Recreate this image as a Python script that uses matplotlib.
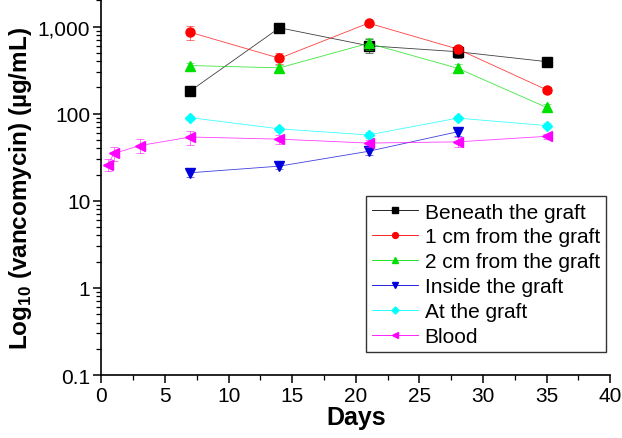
import numpy as np
import matplotlib
matplotlib.use("Agg")
import matplotlib.pyplot as plt
from matplotlib.lines import Line2D
from matplotlib.ticker import FuncFormatter, LogLocator, MultipleLocator, NullFormatter

plt.rcParams["font.family"] = ["Liberation Sans", "DejaVu Sans"]
plt.rcParams["mathtext.fontset"] = "custom"
plt.rcParams["mathtext.rm"] = "Liberation Sans:bold"
plt.rcParams["mathtext.bf"] = "Liberation Sans:bold"

# ---- data ----
days = [7, 14, 21, 28, 35]
beneath = [183, 969, 603, 515, 396]
beneath_err = [15, 60, 110, 80, 45]
cm1 = [859, 433, 1096, 553, 188]
cm1_err = [150, 60, 40, 50, 15]
cm2 = [357, 336, 643, 333, 118]
cm2_err = [25, 25, 100, 35, 12]
inside_days = [7, 14, 21, 28]
inside = [21, 25, 37, 62]
inside_err = [2, 2, 3, 6]
at_graft = [90, 67, 57, 89, 73]
at_graft_err = [5, 4, 4, 5, 5]
blood_days = [0.5, 1, 3, 7, 14, 21, 28, 35]
blood = [26, 35, 43, 54, 51, 46, 47.5, 55]
blood_err = [4, 6, 8, 10, 6, 4, 6, 4]

series = [
    (days, beneath, beneath_err, "Beneath the graft", "black", "s"),
    (days, cm1, cm1_err, "1 cm from the graft", "red", "o"),
    (days, cm2, cm2_err, "2 cm from the graft", "#00e000", "^"),
    (inside_days, inside, inside_err, "Inside the graft", "#0000dd", "v"),
    (days, at_graft, at_graft_err, "At the graft", "cyan", "D"),
    (blood_days, blood, blood_err, "Blood", "magenta", "<"),
]

fig = plt.figure(figsize=(6.22, 4.39), dpi=100)
ax = fig.add_axes([0.163, 0.1435, 0.818, 0.8555])

handles = []
for x, y, err, label, col, mk in series:
    ms = 6.5 if mk != "D" else 5.5
    # error bars, a bit faded like the original
    ax.errorbar(x, y, yerr=err, fmt="none", ecolor=col, elinewidth=0.7,
                capsize=3, capthick=0.7, alpha=0.55)
    ax.plot(x, y, color=col, lw=0.6, alpha=0.75)
    ax.plot(x, y, ls="none", marker=mk, markersize=ms, mec=col, mfc=col)
    handles.append(Line2D([], [], color=col, lw=0.6, marker=mk,
                          markersize=ms * 0.65, mec=col, mfc=col, label=label))

ax.set_yscale("log")
ax.set_xlim(0, 40)
ax.set_ylim(0.1, 2050)
ax.xaxis.set_major_locator(MultipleLocator(5))
ax.xaxis.set_minor_locator(MultipleLocator(2.5))
ax.yaxis.set_major_locator(LogLocator(base=10, numticks=10))
ax.yaxis.set_minor_locator(LogLocator(base=10, subs=np.arange(2, 10), numticks=20))
ax.yaxis.set_minor_formatter(NullFormatter())
ax.yaxis.set_major_formatter(FuncFormatter(lambda v, p: f"{v:,.0f}" if v >= 1 else f"{v:g}"))

for s in ["top", "right"]:
    ax.spines[s].set_visible(False)
for s in ["left", "bottom"]:
    ax.spines[s].set_linewidth(1.2)
ax.tick_params(which="major", direction="out", length=6, width=1.1, labelsize=15, pad=2)
ax.tick_params(which="minor", direction="out", length=3.5, width=0.9)

ax.set_xlabel("Days", fontsize=18, fontweight="bold", labelpad=0)
ax.set_ylabel(r"Log$_{10}$ (vancomycin) (µg/mL)", fontsize=17.5, fontweight="bold", labelpad=3)

leg = ax.legend(handles=handles, loc="lower right", bbox_to_anchor=(1.0, 0.05),
                fontsize=15, frameon=True, fancybox=False, edgecolor="black",
                handlelength=2.2, handletextpad=0.3, borderpad=0.3,
                labelspacing=0.28, borderaxespad=0.2)
leg.get_frame().set_linewidth(1.0)

fig.savefig("out.png", dpi=100)
